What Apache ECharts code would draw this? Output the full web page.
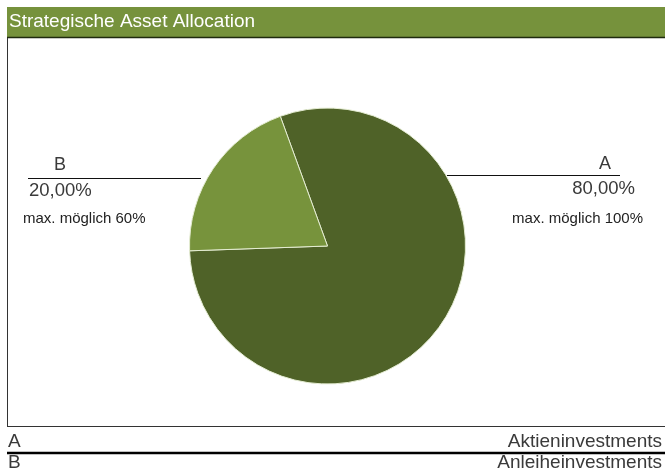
<!DOCTYPE html>
<html>
<head>
<meta charset="utf-8">
<script src="https://cdn.jsdelivr.net/npm/echarts@6/dist/echarts.min.js"></script>
<style>html,body{margin:0;padding:0;background:#fff}#c{width:665px;height:472px}</style>
</head>
<body>
<div id="c"></div>
<script>
var title = 'Strategische Asset Allocation';
var categories = ['A', 'B'];
var values = [80, 20];
var names = ['Aktieninvestments', 'Anleiheinvestments'];
var maxLabels = ['max. möglich 100%', 'max. möglich 60%'];
var colors = ['#4F6228', '#77933C'];

var FONT = '"Liberation Sans", Arial, sans-serif';
var TXT = '#3a3a3a';
function pct(v) { return v.toFixed(2).replace('.', ',') + '%'; }

var chart = echarts.init(document.getElementById('c'), null, {renderer: 'canvas'});
var graphics = [
  {type: 'rect', shape: {x: 7, y: 7, width: 658, height: 30}, style: {fill: '#76923C'}},
  {type: 'line', shape: {x1: 7, y1: 37.5, x2: 665, y2: 37.5}, style: {stroke: '#1f2a0e', lineWidth: 1.5}},
  {type: 'text', x: 9, y: 22, style: {text: title, fill: '#fff', font: '19px ' + FONT, verticalAlign: 'middle'}},
  {type: 'line', shape: {x1: 7.5, y1: 38, x2: 7.5, y2: 426}, style: {stroke: '#333', lineWidth: 1}},
  {type: 'line', shape: {x1: 7, y1: 426.5, x2: 665, y2: 426.5}, style: {stroke: '#333', lineWidth: 1}},
  // left label (B)
  {type: 'line', shape: {x1: 28, y1: 178.5, x2: 201, y2: 178.5}, style: {stroke: '#111', lineWidth: 1}},
  {type: 'text', x: 60, y: 165, style: {text: categories[1], fill: TXT, font: '18px ' + FONT, align: 'center', verticalAlign: 'middle'}},
  {type: 'text', x: 29, y: 191, style: {text: pct(values[1]), fill: TXT, font: '18.5px ' + FONT, align: 'left', verticalAlign: 'middle'}},
  {type: 'text', x: 23, y: 219, style: {text: maxLabels[1], fill: '#222', font: '15px ' + FONT, align: 'left', verticalAlign: 'middle'}},
  // right label (A)
  {type: 'line', shape: {x1: 447, y1: 175.5, x2: 620, y2: 175.5}, style: {stroke: '#111', lineWidth: 1}},
  {type: 'text', x: 605, y: 164, style: {text: categories[0], fill: TXT, font: '18px ' + FONT, align: 'center', verticalAlign: 'middle'}},
  {type: 'text', x: 635, y: 189, style: {text: pct(values[0]), fill: TXT, font: '18.5px ' + FONT, align: 'right', verticalAlign: 'middle'}},
  {type: 'text', x: 643, y: 219, style: {text: maxLabels[0], fill: '#222', font: '15px ' + FONT, align: 'right', verticalAlign: 'middle'}},
  // bottom legend table
  {type: 'line', shape: {x1: 7, y1: 453, x2: 665, y2: 453}, style: {stroke: '#000', lineWidth: 2.5}},
  {type: 'text', x: 8, y: 442, style: {text: categories[0], fill: TXT, font: '19px ' + FONT, verticalAlign: 'middle'}},
  {type: 'text', x: 662, y: 442, style: {text: names[0], fill: TXT, font: '19px ' + FONT, align: 'right', verticalAlign: 'middle'}},
  {type: 'text', x: 8, y: 463, style: {text: categories[1], fill: TXT, font: '19px ' + FONT, verticalAlign: 'middle'}},
  {type: 'text', x: 662, y: 463, style: {text: names[1], fill: TXT, font: '19px ' + FONT, align: 'right', verticalAlign: 'middle'}}
];

chart.setOption({
  animation: false,
  graphic: graphics,
  series: [{
    type: 'pie',
    center: [327.5, 246],
    radius: 138,
    startAngle: 110,
    clockwise: true,
    label: {show: false},
    labelLine: {show: false},
    itemStyle: {borderColor: '#e4ecd2', borderWidth: 1},
    emphasis: {disabled: true},
    data: categories.map(function (c, i) {
      return {name: c, value: values[i], itemStyle: {color: colors[i]}};
    })
  }]
});
</script>
</body>
</html>
